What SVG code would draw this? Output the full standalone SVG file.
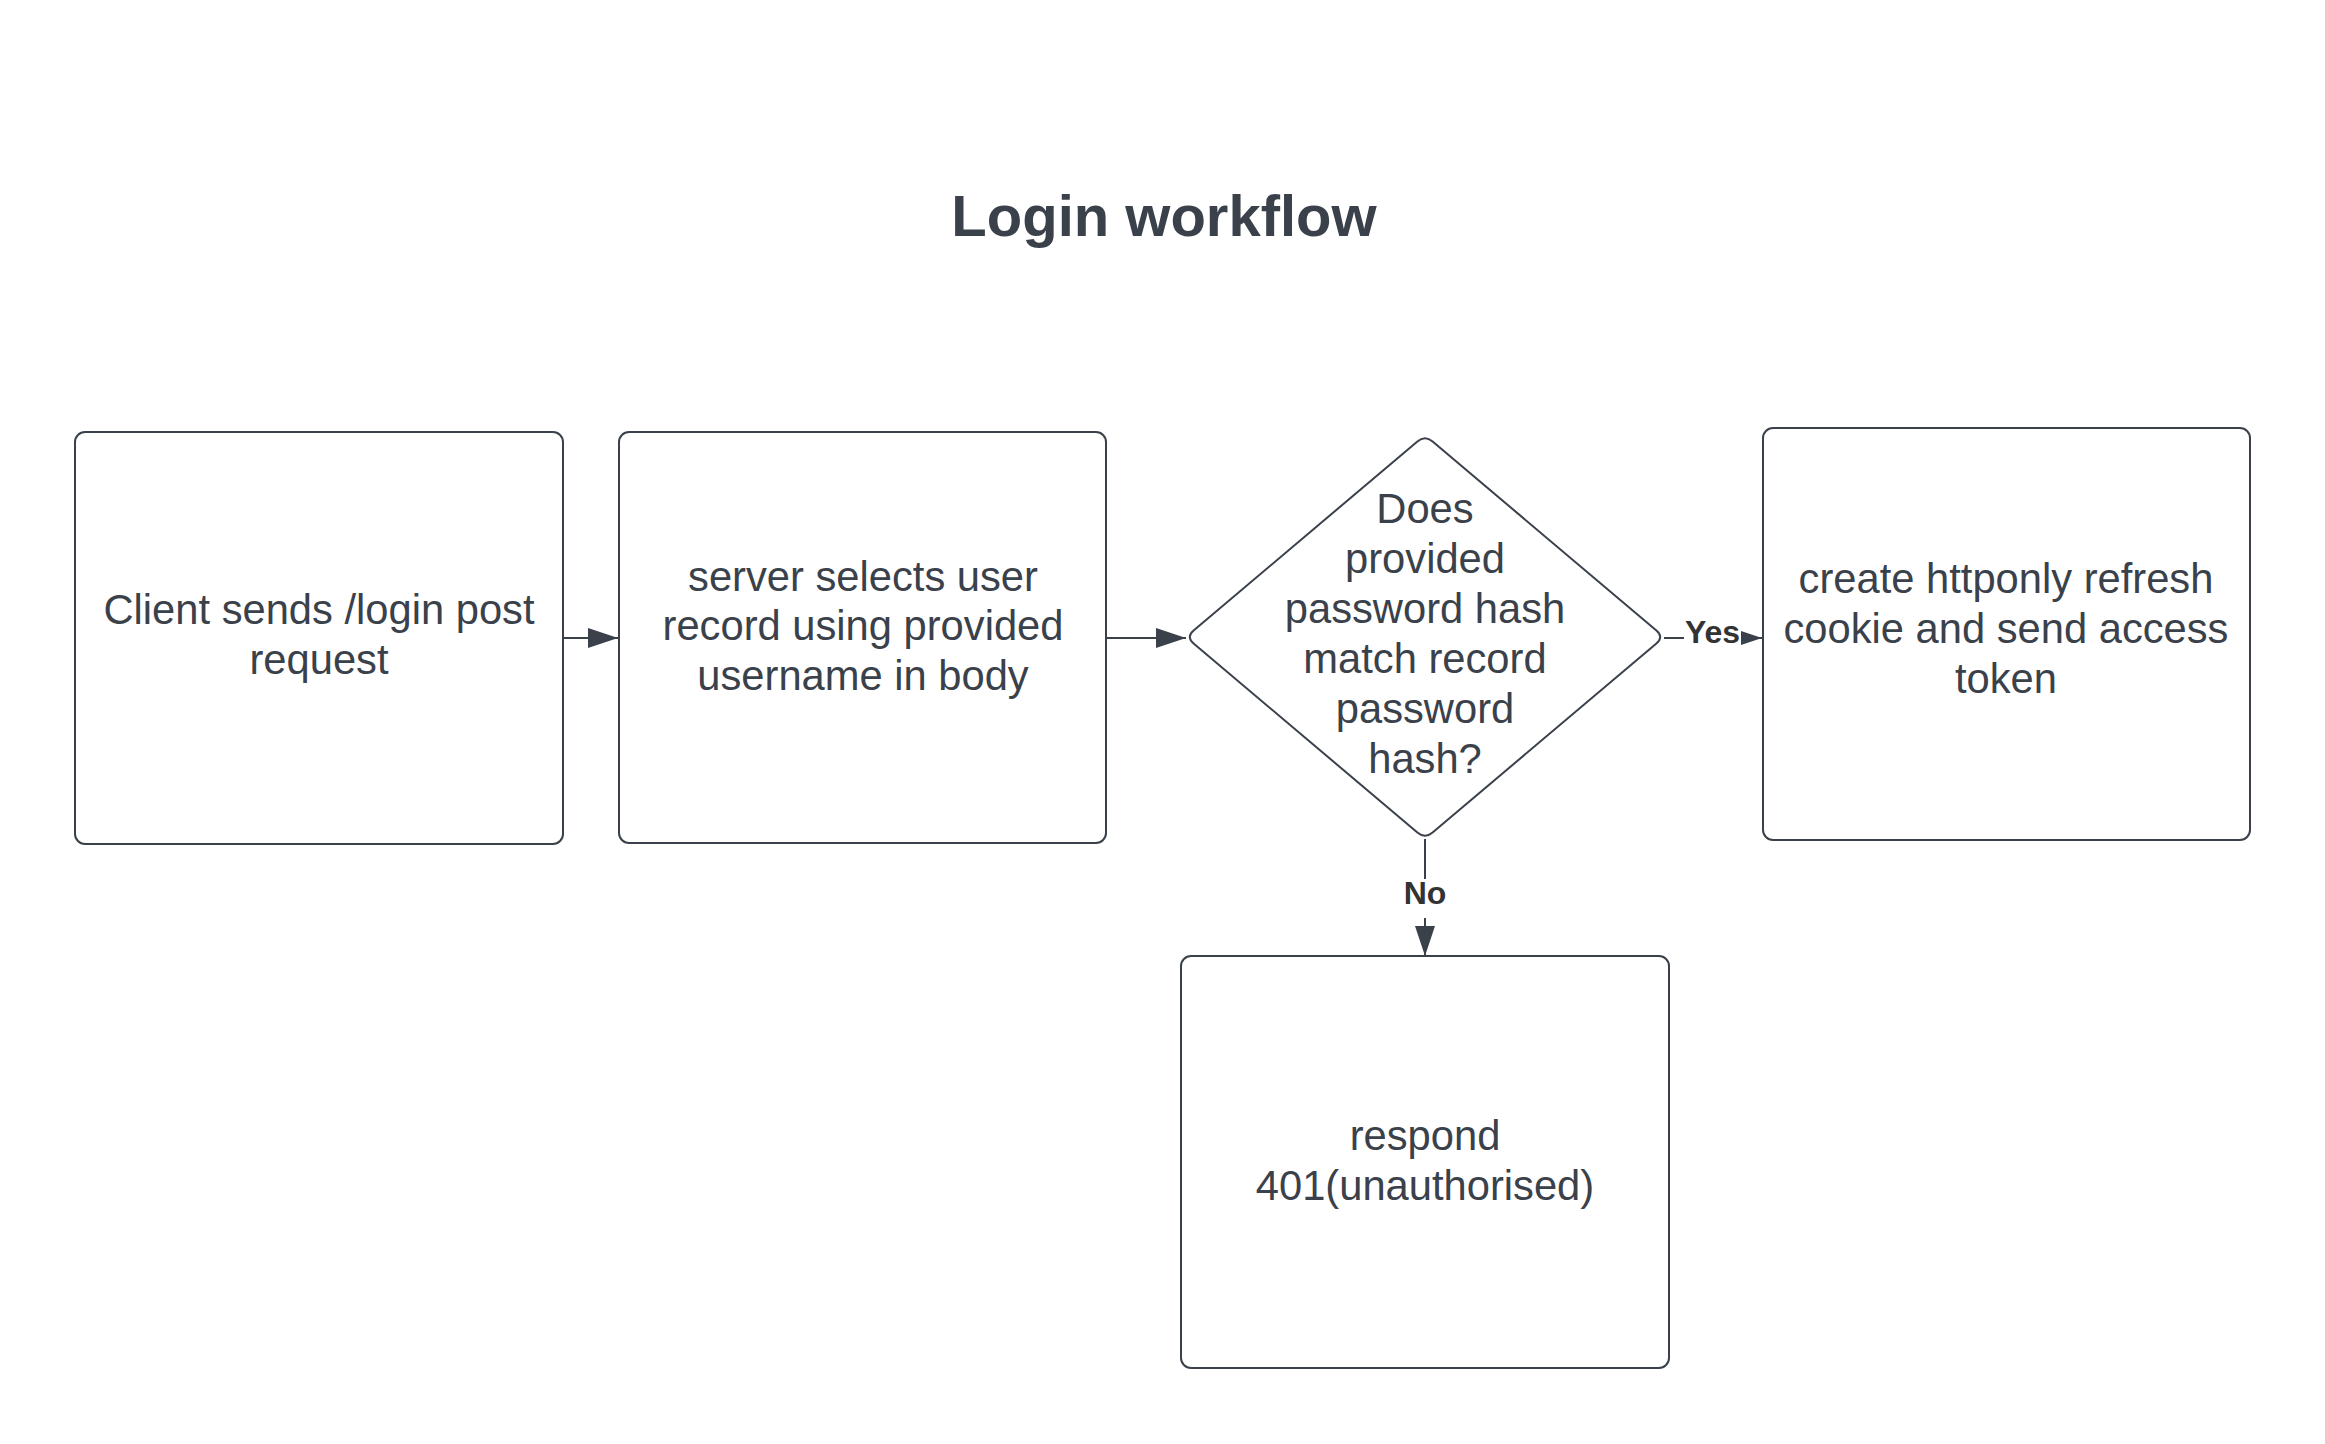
<svg xmlns="http://www.w3.org/2000/svg" width="2325" height="1444" viewBox="0 0 2325 1444">
  <style>
    .shape { fill: #ffffff; stroke: #3a414a; stroke-width: 2; }
    .txt { font-family: "Liberation Sans", Arial, sans-serif; font-size: 41.7px; fill: #3a414a; text-anchor: middle; }
    .title { font-family: "Liberation Sans", Arial, sans-serif; font-size: 58px; font-weight: bold; fill: #3a414a; text-anchor: middle; }
    .lbl { font-family: "Liberation Sans", Arial, sans-serif; font-size: 32px; font-weight: bold; fill: #333333; text-anchor: middle; }
    .conn { fill: none; stroke: #3a414a; stroke-width: 2; }
  </style>
  <defs>
    <marker id="arrow" markerUnits="userSpaceOnUse" markerWidth="30" markerHeight="20" refX="30" refY="10" orient="auto">
      <path d="M0,0 L30,10 L0,20 Z" fill="#3a414a"/>
    </marker>
  </defs>
  <rect width="2325" height="1444" fill="#ffffff"/>

  <g id="title">
    <text class="title" x="1164" y="236">Login workflow</text>
  </g>

  <g id="connectors">
    <path class="conn" d="M563,638 L618,638" marker-end="url(#arrow)"/>
    <path class="conn" d="M1106,638 L1186,638" marker-end="url(#arrow)"/>
    <path class="conn" d="M1664,638 L1762,638" marker-end="url(#arrow)"/>
    <path class="conn" d="M1425,839 L1425,956" marker-end="url(#arrow)"/>
    <g id="label-yes">
      <rect x="1684" y="621" width="57" height="34" fill="#ffffff"/>
      <text class="lbl" x="1712.5" y="643">Yes</text>
    </g>
    <g id="label-no">
      <rect x="1402" y="879" width="46" height="39" fill="#ffffff"/>
      <text class="lbl" x="1425" y="904">No</text>
    </g>
  </g>

  <g id="node-client">
    <rect class="shape" x="75" y="432" width="488" height="412" rx="10" ry="10"/>
    <text class="txt" x="319" y="624">Client sends /login post</text>
    <text class="txt" x="319" y="674">request</text>
  </g>

  <g id="node-server">
    <rect class="shape" x="619" y="432" width="487" height="411" rx="10" ry="10"/>
    <text class="txt" x="863" y="591">server selects user</text>
    <text class="txt" x="863" y="640">record using provided</text>
    <text class="txt" x="863" y="690">username in body</text>
  </g>

  <g id="node-decision">
    <path class="shape" d="M1193.6,630.5 L1417.4,441.5 Q1425,435 1432.6,441.5 L1656.4,630.5 Q1664,637 1656.4,643.5 L1432.6,832.5 Q1425,839 1417.4,832.5 L1193.6,643.5 Q1186,637 1193.6,630.5 Z"/>
    <text class="txt" x="1425" y="523">Does</text>
    <text class="txt" x="1425" y="573">provided</text>
    <text class="txt" x="1425" y="623">password hash</text>
    <text class="txt" x="1425" y="673">match record</text>
    <text class="txt" x="1425" y="723">password</text>
    <text class="txt" x="1425" y="773">hash?</text>
  </g>

  <g id="node-success">
    <rect class="shape" x="1763" y="428" width="487" height="412" rx="10" ry="10"/>
    <text class="txt" x="2006" y="593">create httponly refresh</text>
    <text class="txt" x="2006" y="643">cookie and send access</text>
    <text class="txt" x="2006" y="693">token</text>
  </g>

  <g id="node-fail">
    <rect class="shape" x="1181" y="956" width="488" height="412" rx="10" ry="10"/>
    <text class="txt" x="1425" y="1150">respond</text>
    <text class="txt" x="1425" y="1200">401(unauthorised)</text>
  </g>
</svg>
